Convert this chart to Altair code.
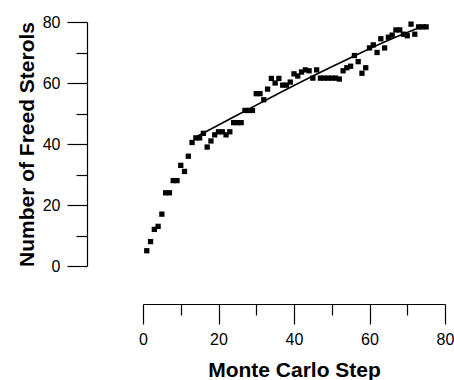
import altair as alt
import pandas as pd

steps = list(range(1, 76))
freed = [5, 8, 12, 13, 17, 24, 24, 28, 28, 33,
         31, 36, 40.5, 42, 42, 43.5, 39, 41, 43, 44,
         44, 43, 44, 47, 47, 47, 51, 51, 51, 56.5,
         56.5, 54.5, 58, 61.5, 60, 61.5, 59.3, 59.3, 60.3, 63,
         62.3, 63.6, 64.3, 64, 61.6, 64.3, 61.6, 61.6, 61.6, 61.6,
         61.6, 61.3, 64, 65, 65.5, 69, 67, 63.2, 65, 71.5,
         72.5, 70, 74.5, 71.5, 75, 75.7, 77.4, 77.4, 76, 75.5,
         79.3, 76, 78.4, 78.4, 78.4]

fit_x = [14, 25, 35, 45, 55, 65, 75]
fit_y = [42.3, 49.5, 56, 62.3, 68.3, 74, 79]

df = pd.DataFrame({"step": steps, "freed": freed})
fit_df = pd.DataFrame({"fx": fit_x, "fy": fit_y})

xscale = alt.Scale(domain=[0, 80], nice=False, zero=False)
yscale = alt.Scale(domain=[0, 80], nice=False, zero=False)

FONT = "Liberation Sans"
common = dict(grid=False, labelFont=FONT, labelFontSize=16, labelColor="black",
              tickColor="black", domainColor="black", tickWidth=1.2, domainWidth=1.2,
              titleFont=FONT, titleFontSize=21, titleFontWeight="bold", titleColor="black")

major_x = alt.Axis(orient="bottom", values=[0, 20, 40, 60, 80], tickSize=20, offset=38,
                   labelPadding=7, title="Monte Carlo Step", titlePadding=12,
                   labelFlush=False, **common)
minor_x = alt.Axis(orient="bottom", values=[10, 30, 50, 70], tickSize=11, offset=38,
                   labels=False, domain=False, title=None, grid=False,
                   tickColor="black", tickWidth=1.2)
major_y = alt.Axis(orient="left", values=[0, 20, 40, 60, 80], tickSize=20, offset=56,
                   labelPadding=7, title="Number of Freed Sterols", titlePadding=5,
                   labelFlush=False, **common)
minor_y = alt.Axis(orient="left", values=[10, 30, 50, 70], tickSize=11, offset=56,
                   labels=False, domain=False, title=None, grid=False,
                   tickColor="black", tickWidth=1.2)

points = alt.Chart(df).mark_square(size=28, color="black", opacity=1).encode(
    x=alt.X("step:Q", scale=xscale, axis=major_x),
    y=alt.Y("freed:Q", scale=yscale, axis=major_y),
)

line = alt.Chart(fit_df).mark_line(color="black", strokeWidth=1.6, interpolate="monotone").encode(
    x=alt.X("fx:Q", scale=xscale, axis=minor_x),
    y=alt.Y("fy:Q", scale=yscale, axis=minor_y),
)

chart = alt.layer(points, line).resolve_axis(x="independent", y="independent").properties(
    width=302, height=244,
    autosize=alt.AutoSizeParams(type="none"),
    padding={"left": 143, "top": 22, "right": 9, "bottom": 114},
    background="white",
).configure_view(stroke=None)

chart.save("out.html", embed_options={"renderer": "svg", "actions": False})
